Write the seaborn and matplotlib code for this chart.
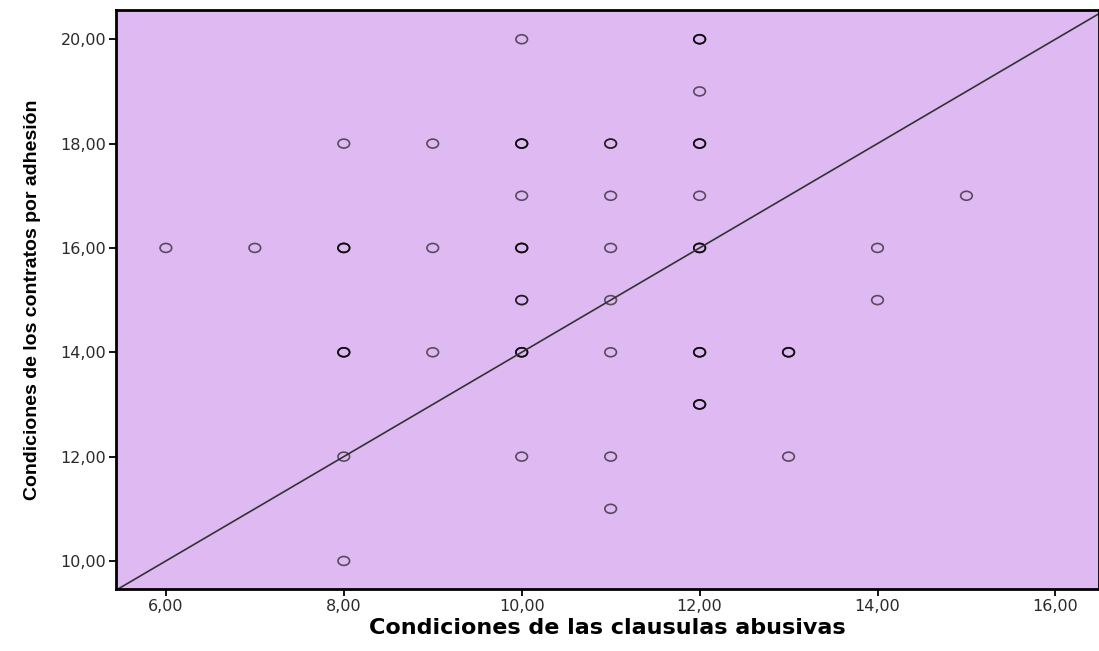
import numpy as np
import pandas as pd
import seaborn as sns
import matplotlib.pyplot as plt
from matplotlib.ticker import FuncFormatter
from matplotlib.path import Path
from matplotlib.transforms import Affine2D

# valores (x, y, repeticiones aproximadas)
clausulas = [6, 7, 8, 8, 8, 8, 8, 9, 9, 9,
             10, 10, 10, 10, 10, 10, 10,
             11, 11, 11, 11, 11, 11, 11,
             12, 12, 12, 12, 12, 12, 12,
             13, 13, 14, 14, 15]
contratos = [16, 16, 18, 16, 14, 12, 10, 18, 16, 14,
             20, 18, 17, 16, 15, 14, 12,
             18, 17, 16, 15, 14, 12, 11,
             20, 19, 18, 17, 16, 14, 13,
             14, 12, 16, 15, 17]
repeticiones = [1, 1, 1, 3, 3, 1, 1, 1, 1, 1,
                1, 3, 1, 3, 2, 3, 1,
                2, 1, 1, 1, 1, 1, 1,
                3, 1, 3, 1, 3, 3, 3,
                3, 1, 1, 1, 1]

df = pd.DataFrame({'x': clausulas, 'y': contratos, 'n': repeticiones})
df = df.loc[df.index.repeat(df['n'])].reset_index(drop=True)

sns.set_style('white')
fig = plt.figure(figsize=(10.99, 6.51), dpi=100)
ax = fig.add_axes([0.1056, 0.0948, 0.8944, 0.8898])
ax.set_facecolor('#DFB9F1')

# circulo algo achatado como en SPSS
ovalo = Path.unit_circle().transformed(Affine2D().scale(1.3, 1.0))
sns.scatterplot(data=df, x='x', y='y', ax=ax, marker=ovalo, s=70,
                facecolor='none', edgecolor=(0, 0, 0, 0.6), linewidth=1.2)

# linea de referencia
ax.axline((8, 12), slope=1, color='#333333', linewidth=1.2, zorder=1)

ax.set_xlim(5.44, 16.49)
ax.set_ylim(9.457, 20.56)
ax.set_xticks([6, 8, 10, 12, 14, 16])
ax.set_yticks([10, 12, 14, 16, 18, 20])
fmt = FuncFormatter(lambda v, _: f"{v:.2f}".replace('.', ','))
ax.xaxis.set_major_formatter(fmt)
ax.yaxis.set_major_formatter(fmt)
ax.tick_params(axis='both', direction='out', length=5, width=1.3, color='black',
               labelsize=11.5, labelcolor='#2a2a2a', bottom=True, left=True, pad=2)

for side in ['left', 'top', 'bottom', 'right']:
    ax.spines[side].set_color('black')
    ax.spines[side].set_linewidth(2)

ax.set_xlabel('Condiciones de las clausulas abusivas', fontsize=16,
              fontweight='bold', family=['DejaVu Sans'], labelpad=3, color='black')
ax.set_ylabel('Condiciones de los contratos por adhesión', fontsize=14,
              fontweight='bold', family=['Liberation Sans Narrow', 'Liberation Sans'],
              labelpad=14, color='black')

fig.savefig('out.png', dpi=100)
